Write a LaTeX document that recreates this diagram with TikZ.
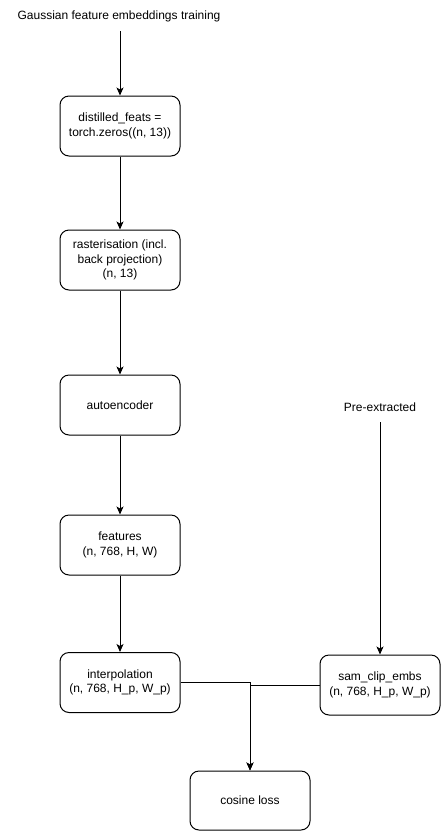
\documentclass[tikz,border=0pt]{standalone}
\usepackage{fontspec}
\setmainfont{Liberation Sans}
\usetikzlibrary{arrows.meta}
\begin{document}
\begin{tikzpicture}[x=1pt,y=-1pt,
  box/.style={draw, line width=1pt, rounded corners=9pt, minimum width=120pt, minimum height=60pt, align=center, inner sep=0pt, font=\fontsize{12}{14.4}\selectfont},
  lbl/.style={align=center, inner sep=0pt, font=\fontsize{12}{14.4}\selectfont},
  conn/.style={line width=1pt, -{Stealth[length=8pt,width=7pt,inset=2pt]}}
]
\useasboundingbox (0,0) rectangle (441,831);
\node[lbl] (title) at (119,16) {Gaussian feature embeddings training};
\node[box] (dist) at (120,126) {distilled\_feats =\\torch.zeros((n, 13))};
\node[box] (rast) at (120,260) {rasterisation (incl.\\back projection)\\(n, 13)};
\node[box] (auto) at (120,405) {autoencoder};
\node[box] (feat) at (120,545) {features\\(n, 768, H, W)};
\node[box] (interp) at (120,682.5) {interpolation\\(n, 768, H\_p, W\_p)};
\node[lbl] (pre) at (380,407) {Pre-extracted};
\node[box] (sam) at (380,685) {sam\_clip\_embs\\(n, 768, H\_p, W\_p)};
\node[box, minimum height=59pt] (cos) at (250,800.5) {cosine loss};
\coordinate (ttop) at (120,31);
\coordinate (ptop) at (380,422);
\draw[conn] (ttop) -- (dist);
\draw[conn] (dist) -- (rast);
\draw[conn] (rast) -- (auto);
\draw[conn] (auto) -- (feat);
\draw[conn] (feat) -- (interp);
\draw[conn] (ptop) -- (sam);
\draw[conn] (interp.east) -| (cos.north);
\draw[conn] (sam.west) -| (cos.north);
\end{tikzpicture}
\end{document}
